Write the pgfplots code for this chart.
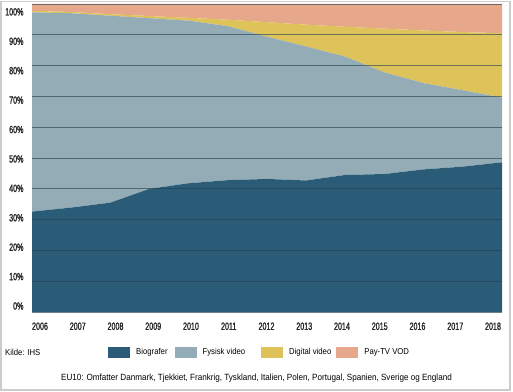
\documentclass[border=0pt]{standalone}
\usepackage{fontspec}
\setmainfont{Liberation Sans}
\newfontfamily\condfont[FakeStretch=0.68,FakeBold=1.3]{Liberation Sans}
\newfontfamily\legfont[FakeStretch=0.9]{Liberation Sans}
\usepackage{pgfplots}
\pgfplotsset{compat=1.18}
\definecolor{bio}{HTML}{2A5C78}
\definecolor{fys}{HTML}{94ACB5}
\definecolor{dig}{HTML}{DEC25A}
\definecolor{pay}{HTML}{E6A78A}
\definecolor{gridc}{HTML}{1E3D50}
\definecolor{framec}{HTML}{CCCCCC}
\begin{document}
\begin{tikzpicture}
\useasboundingbox (0pt,0pt) rectangle (513pt,391pt);
\fill[white] (0pt,0pt) rectangle (513pt,391pt);
\draw[framec,line width=1.5pt] (1pt,1pt) rectangle (510pt,389.5pt);
\begin{axis}[
  at={(32pt,79pt)}, anchor=south west,
  width=470pt, height=308pt, scale only axis,
  xmin=2006, xmax=2018, ymin=0, ymax=100,
  stack plots=y,
  axis on top,
  axis line style={draw=none},
  tick style={draw=none},
  xtick={2006.204,2007.168,2008.132,2009.095,2010.059,2011.023,2011.987,2012.951,2013.914,2014.878,2015.842,2016.806,2017.770},
  xticklabels={2006,2007,2008,2009,2010,2011,2012,2013,2014,2015,2016,2017,2018},
  ytick={1.95,11.5,21.05,30.6,40.15,49.7,59.25,68.8,78.35,87.9,97.45},
  yticklabels={0\%,10\%,20\%,30\%,40\%,50\%,60\%,70\%,80\%,90\%,100\%},
  extra y ticks={0,10,20,30,40,50,60,70,80,90,100},
  extra y tick labels={},
  extra y tick style={grid=major},
  ticklabel style={font=\condfont\fontsize{10.5}{12}\selectfont, text=black!85},
  xticklabel style={yshift=-7pt},
  yticklabel style={xshift=-5pt},
  major grid style={gridc, opacity=0.6, line width=0.8pt},
  legend style={at={(0.1617,-0.1299)}, anchor=west, draw=none, fill=none,
    inner sep=0pt, font=\legfont\fontsize{8.6}{10}\selectfont,
    /tikz/column 2/.style={column sep=5pt},
    /tikz/column 4/.style={column sep=14pt},
    /tikz/column 6/.style={column sep=3pt}},
  legend columns=4,
  legend image code/.code={\fill[#1] (0pt,-5.5pt) rectangle (22pt,5.5pt); \path (26pt,0pt);},
]
\addplot[fill=bio, draw=none] coordinates {
(2006,32.6) (2007,33.9) (2008,35.5) (2009,40.0) (2010,41.8) (2011,42.8) (2012,43.2)
(2013,42.7) (2014,44.5) (2015,44.8) (2016,46.3) (2017,47.2) (2018,48.6)} \closedcycle;
\addlegendentry{Biografer}
\addplot[fill=fys, draw=none] coordinates {
(2006,64.7) (2007,63.1) (2008,60.7) (2009,55.4) (2010,52.8) (2011,50.0) (2012,46.2)
(2013,43.5) (2014,38.4) (2015,33.0) (2016,28.0) (2017,24.8) (2018,21.0)} \closedcycle;
\addlegendentry{Fysisk video}
\addplot[fill=dig, draw=none] coordinates {
(2006,0.5) (2007,0.4) (2008,0.5) (2009,0.7) (2010,0.9) (2011,2.1) (2012,4.7)
(2013,7.1) (2014,9.7) (2015,14.2) (2016,17.1) (2017,18.9) (2018,20.9)} \closedcycle;
\addlegendentry{Digital video}
\addplot[fill=pay, draw=none] coordinates {
(2006,2.2) (2007,2.6) (2008,3.3) (2009,3.9) (2010,4.5) (2011,5.1) (2012,5.9)
(2013,6.7) (2014,7.4) (2015,8.0) (2016,8.6) (2017,9.1) (2018,9.5)} \closedcycle;
\addlegendentry{Pay-TV VOD}
\end{axis}
\node[anchor=west, font=\legfont\fontsize{8.6}{10}\selectfont, inner sep=0pt] at (5pt,39pt) {Kilde: IHS};
\node[font=\legfont\fontsize{9.0}{10}\selectfont, inner sep=0pt] at (256.5pt,13pt) {EU10: Omfatter Danmark, Tjekkiet, Frankrig, Tyskland, Italien, Polen, Portugal, Spanien, Sverige og England};
\end{tikzpicture}
\end{document}
